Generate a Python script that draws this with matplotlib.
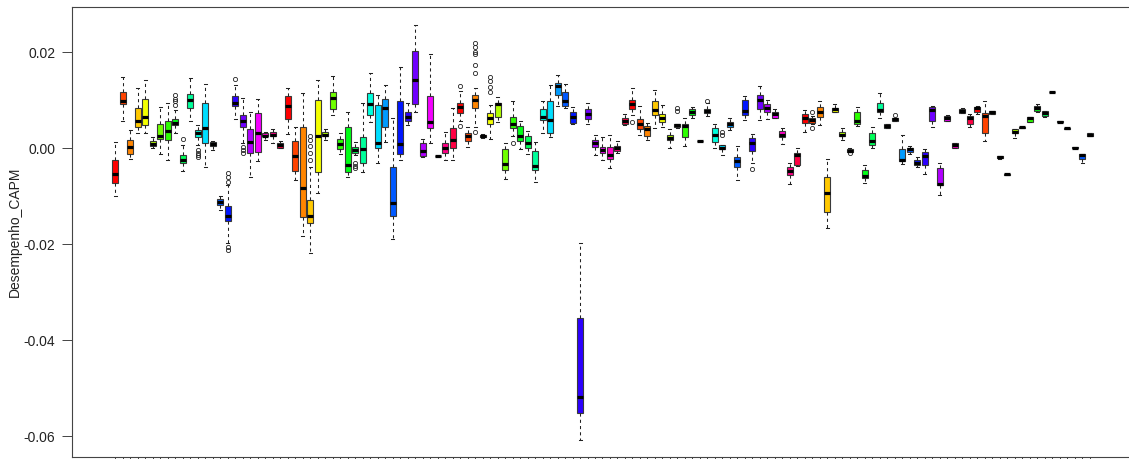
import numpy as np
import matplotlib
matplotlib.use("Agg")
import matplotlib.pyplot as plt
from matplotlib.colors import hsv_to_rgb

plt.rcParams['font.family'] = ['Liberation Sans', 'DejaVu Sans']

# values in thousandths (per mille) of Desempenho_CAPM
whis_lo = [-10.0, 5.6, -2.3, 3.1, 3.2, 0.0, -1.3, -2.6, 3.2, -4.7,
           5.7, 0.6, -3.9, -0.4, -12.9, -19.7, 6.0, 1.0, -6.1, -2.8,
           1.7, 1.1, -0.1, 2.9, -6.7, -18.3, -21.9, -9.4, 1.7, 6.9,
           -1.3, -6.1, -1.4, -5.1, 5.5, -3.1, 1.3, -19.0, -2.4, 4.8,
           7.4, -1.8, 1.0, -1.8, -2.4, -2.4, 5.7, 0.3, 4.4, 2.1,
           1.8, 5.5, -6.5, 2.4, -0.2, -1.25, -7.0, 3.1, 2.2, 8.75,
           8.4, 5.1, -60.8, 5.0, -1.5, -2.4, -4.1, -1.1, 4.8, 6.9,
           2.7, 1.7, 4.1, 4.3, -0.1, 4.1, 0.4, 6.2, 1.45, 6.7,
           -0.1, -1.5, 3.75, -6.7, 5.8, -3.1, 5.8, 6.0, 6.2, 0.8,
           -7.6, -3.75, 3.4, 4.9, 4.8, -16.7, 7.4, 1.7, -0.8, 4.6,
           -7.2, -0.1, 6.2, 4.1, 5.6, -3.3, -1.25, -3.9, -5.4, 4.4,
           -9.7, 5.6, 0.1, 7.2, 4.3, 7.1, 1.5, 7.1, -2.2, -5.55,
           2.0, 4.25, 5.5, 7.4, 6.5, 11.65, 5.45, 4.05, 0.05, -3.2,
           2.5]
q1 = [-7.2, 9.1, -1.3, 4.4, 4.8, 0.5, 1.8, 1.7, 4.7, -3.2,
      8.3, 2.2, 1.0, 0.4, -11.9, -15.3, 8.75, 4.3, -1.1, -0.8,
      2.4, 2.4, 0.1, 6.0, -4.7, -14.4, -15.6, -4.9, 2.4, 8.1,
      -0.3, -5.1, -1.0, -3.1, 6.9, -0.1, 4.4, -14.2, -1.25, 5.7,
      9.1, -1.7, 4.1, -1.75, -1.1, -0.1, 7.2, 1.5, 8.4, 2.2,
      5.1, 6.5, -4.6, 4.2, 1.5, 0.1, -4.6, 5.8, 3.2, 11.0,
      8.75, 5.3, -55.3, 6.0, 0.3, -1.0, -2.3, -0.6, 4.9, 8.1,
      3.9, 2.4, 6.9, 5.5, 1.7, 4.3, 2.2, 6.9, 1.45, 7.2,
      1.3, -0.3, 4.4, -3.9, 6.9, -0.6, 8.1, 7.4, 6.3, 2.2,
      -5.6, -3.5, 5.3, 5.3, 6.4, -13.3, 7.4, 2.5, -0.8, 5.1,
      -6.3, 0.6, 7.4, 4.1, 5.6, -2.8, -0.8, -3.5, -3.5, 5.7,
      -7.8, 5.6, 0.1, 7.2, 5.1, 7.6, 3.1, 7.1, -2.1, -5.55,
      3.1, 4.25, 5.5, 7.7, 6.7, 11.65, 5.45, 4.05, 0.05, -2.3,
      2.5]
med = [-5.5, 9.7, 0.3, 5.7, 6.5, 0.9, 2.5, 3.6, 5.3, -2.4,
       9.9, 3.2, 4.1, 0.8, -11.2, -14.2, 9.4, 5.7, 1.3, 3.2,
       2.6, 2.8, 0.7, 8.75, -1.7, -8.4, -14.2, 2.4, 2.8, 10.5,
       0.8, -3.5, -0.4, -0.3, 9.1, 1.1, 8.3, -11.4, 0.8, 6.4,
       14.2, -0.6, 5.5, -1.7, -0.1, 1.7, 8.5, 2.4, 10.0, 2.5,
       6.3, 9.1, -3.4, 5.0, 2.5, 1.0, -3.7, 6.5, 5.8, 12.9,
       9.8, 6.5, -51.9, 7.1, 1.0, -0.4, -1.5, -0.1, 5.6, 9.2,
       5.0, 3.9, 7.9, 6.3, 2.0, 4.8, 4.6, 7.6, 1.5, 7.8,
       2.8, 0.1, 4.9, -2.8, 7.7, 1.1, 10.1, 8.4, 7.0, 2.8,
       -4.8, -1.5, 6.3, 5.8, 7.6, -9.3, 8.1, 2.8, -0.6, 5.6,
       -5.8, 1.5, 7.9, 4.6, 6.0, -2.5, -0.3, -3.1, -1.7, 7.9,
       -7.4, 6.2, 0.6, 7.7, 6.3, 8.3, 6.7, 7.5, -1.9, -5.5,
       3.4, 4.3, 6.2, 8.3, 7.2, 11.7, 5.5, 4.1, 0.1, -1.5,
       2.8]
q3 = [-2.6, 11.6, 1.6, 8.3, 10.3, 1.4, 4.9, 5.7, 6.0, -1.4,
      11.2, 3.75, 9.3, 1.3, -10.6, -12.1, 10.8, 6.9, 3.9, 7.2,
      3.1, 3.3, 1.1, 10.8, 1.5, 4.4, -10.8, 10.0, 3.3, 11.6,
      1.8, 4.3, 0.3, 2.2, 11.4, 9.0, 10.2, -3.9, 9.7, 7.4,
      20.2, 1.1, 10.8, -1.6, 1.0, 4.2, 9.3, 3.1, 11.1, 2.7,
      7.2, 9.4, -0.2, 6.5, 4.6, 2.4, -0.6, 8.1, 9.8, 13.6,
      11.6, 7.6, -35.5, 8.1, 1.7, 0.3, 0.3, 0.5, 6.2, 10.1,
      6.0, 4.6, 9.7, 7.1, 2.8, 5.1, 5.1, 8.1, 1.55, 8.1,
      4.1, 0.6, 5.5, -1.9, 10.1, 2.0, 11.0, 9.1, 7.6, 3.5,
      -3.9, -1.1, 7.1, 6.2, 8.6, -6.0, 8.4, 3.3, -0.3, 7.4,
      -4.6, 3.1, 9.3, 4.9, 6.3, -0.3, 0.1, -2.6, -0.9, 8.5,
      -4.2, 6.7, 1.0, 8.1, 6.7, 8.6, 7.2, 7.8, -1.7, -5.45,
      3.9, 4.35, 6.4, 8.75, 7.8, 11.75, 5.55, 4.15, 0.15, -1.25,
      3.2]
whis_hi = [1.2, 14.7, 3.75, 12.4, 14.2, 2.2, 8.6, 9.3, 7.9, 0.6,
           14.5, 4.8, 13.3, 1.5, -10.1, -7.7, 13.1, 10.5, 7.6, 10.3,
           3.4, 3.9, 1.5, 12.6, 4.4, 11.5, -3.9, 14.2, 3.9, 14.9,
           3.1, 7.4, 1.3, 9.3, 15.7, 11.0, 13.1, 6.2, 16.9, 9.4,
           25.6, 1.8, 19.6, -1.55, 3.4, 8.3, 11.9, 4.3, 12.4, 2.9,
           9.0, 10.7, 1.1, 9.8, 5.7, 3.6, 1.3, 9.8, 13.1, 15.2,
           13.3, 8.5, -19.7, 9.4, 2.8, 2.2, 2.8, 1.5, 7.1, 12.4,
           8.75, 5.3, 12.1, 9.0, 3.9, 5.1, 6.2, 8.6, 1.55, 9.3,
           5.0, 0.6, 6.2, 0.4, 10.8, 2.9, 12.9, 10.1, 8.1, 4.1,
           -3.2, 0.1, 7.9, 6.6, 9.7, -2.2, 9.1, 4.1, 0.1, 8.6,
           -3.5, 4.3, 11.4, 5.1, 6.3, 2.8, 0.4, -1.9, -0.3, 8.8,
           -3.2, 6.9, 1.0, 8.4, 7.1, 8.75, 9.7, 7.8, -1.6, -5.45,
           3.9, 4.35, 6.4, 9.1, 7.8, 11.75, 5.55, 4.15, 0.15, -1.25,
           3.2]
# outliers (box number -> values, per mille)
outliers = {
    9: [9.0, 9.7, 10.3, 11.0],
    10: [1.8],
    12: [-0.4, -1.0, -1.5, -1.8],
    16: [-5.3, -6.0, -7.0, -20.6, -21.2],
    17: [14.3],
    18: [0.3, -0.4, -1.0],
    27: [-2.4, -1.0, 0.5, 1.7, 2.5],
    33: [-3.2, -3.75, -4.2],
    47: [12.9, 4.6],
    49: [15.7, 17.2, 19.5, 20.1, 21.1, 21.9, 3.4],
    51: [11.7, 12.8, 14.0, 14.7],
    54: [1.1],
    70: [5.5],
    76: [7.7, 8.4],
    80: [9.8],
    82: [2.7, 3.4],
    86: [-4.4],
    94: [7.6, 4.1],
    99: [-1.1],
    105: [6.9],
}

n = len(med)
scale = 1e-3
stats = []
for i in range(n):
    stats.append(dict(
        whislo=whis_lo[i] * scale, q1=q1[i] * scale, med=med[i] * scale,
        q3=q3[i] * scale, whishi=whis_hi[i] * scale,
        fliers=np.array(outliers.get(i + 1, [])) * scale))

W, H = 1129, 459
fig = plt.figure(figsize=(W / 100, H / 100), dpi=100)
left, right, top, bottom = 72, 1133, 7, 457
ax = fig.add_axes([left / W, (H - bottom) / H, (right - left) / W, (bottom - top) / H])

ncol = 23
colors = [hsv_to_rgb(((i % ncol) / ncol, 1.0, 1.0)) for i in range(n)]

bp = ax.bxp(stats, positions=np.arange(1, n + 1), widths=0.8, patch_artist=True,
            showfliers=True,
            boxprops=dict(edgecolor='#3a3a3a', linewidth=0.8),
            medianprops=dict(color='black', linewidth=2.3, solid_capstyle='butt'),
            whiskerprops=dict(color='#222222', linewidth=0.75, linestyle=(0, (3, 3))),
            capprops=dict(color='#222222', linewidth=0.75),
            flierprops=dict(marker='o', markerfacecolor='none', markeredgecolor='#222222',
                            markersize=3, markeredgewidth=0.6),
            capwidths=0.4)
for patch, c in zip(bp['boxes'], colors):
    patch.set_facecolor(c)

ax.set_xlim(0.5 - 0.04 * n, n + 0.5 + 0.04 * n)
ax.set_ylim(-0.064375, 0.029375)

ax.set_xticks(np.arange(1, n + 1))
ax.set_xticklabels([])
ax.tick_params(axis='x', length=6, width=0.7, color='#444444')
yt = [-0.06, -0.04, -0.02, 0.0, 0.02]
ax.set_yticks(yt)
ax.set_yticklabels(["-0.06", "-0.04", "-0.02", "0.00", "0.02"], fontsize=10, color='#222222')
ax.tick_params(axis='y', length=7, width=0.7, color='#444444', pad=5)
for s in ax.spines.values():
    s.set_color('#444444')
    s.set_linewidth(0.8)
ax.spines['right'].set_visible(False)

fig.text(15 / W, 1 - (top + bottom) / 2 / H, "Desempenho_CAPM", rotation=90,
         ha='center', va='center', fontsize=10, color='#222222')

fig.savefig("out.png", dpi=100)
